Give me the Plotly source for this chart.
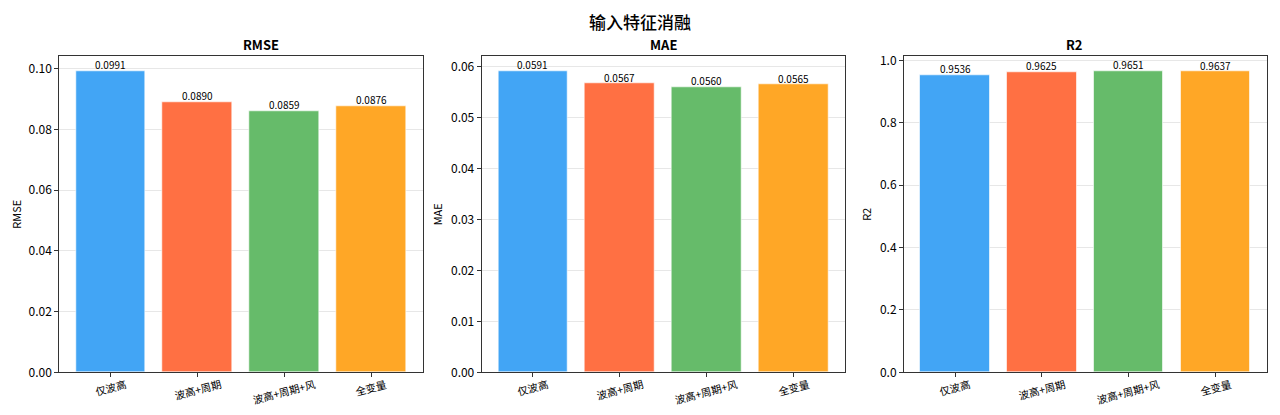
import plotly.graph_objects as go

# --data
groups  = ["仅波高", "波高+周期", "波高+周期+风", "全变量"]
rmse    = [0.0991, 0.0890, 0.0859, 0.0876]
mae     = [0.0591, 0.0567, 0.0560, 0.0565]
r2      = [0.9536, 0.9625, 0.9651, 0.9637]
metrics = ["RMSE", "MAE", "R2"]
colors  = ["#42A5F5", "#FF7043", "#66BB6A", "#FFA726"]

FONT = "Noto Sans CJK SC"
# page body has an 8px margin, so the figure is a bit smaller than the window
OFF  = 8
W, H = 1280 - 2 * OFF, 415 - 2 * OFF

def px_x(x):
    return (x - OFF) / W

def px_y(y):
    return 1 - (y - OFF) / H

# pixel boxes (in the window) of the three axes
boxes  = [(59.3, 422.7), (481.7, 845.0), (904.0, 1266.7)]
top, bottom = 56.3, 372.3
ydom   = [px_y(bottom), px_y(top)]

panels = [
    (rmse, 0.02, ".2f"),
    (mae,  0.01, ".2f"),
    (r2,   0.2,  ".1f"),
]

fig = go.Figure()
xs = list(range(len(groups)))

for i, (vals, dt, fmt) in enumerate(panels):
    n  = "" if i == 0 else str(i + 1)
    xa = "x" + n
    ya = "y" + n
    fig.add_trace(go.Bar(
        x=xs, y=vals, width=0.8,
        marker=dict(color=colors, line=dict(color="rgba(255,255,255,0.6)", width=1)),
        xaxis=xa, yaxis=ya, showlegend=False, hoverinfo="y",
    ))
    # value labels above bars
    for x, v in zip(xs, vals):
        fig.add_annotation(
            x=x, y=v, xref=xa, yref=ya, text=f"{v:.4f}",
            showarrow=False, yanchor="bottom", yshift=-3,
            font=dict(family=FONT, size=10, color="black"),
        )
    # rotated category labels, centred under each tick (matplotlib style)
    for x, g in zip(xs, groups):
        fig.add_annotation(
            x=x, y=px_y(375), xref=xa, yref="paper", text=g,
            showarrow=False, textangle=-15, xanchor="center", yanchor="top",
            borderpad=0, font=dict(family=FONT, size=10.5, color="black"),
        )
    l, r = boxes[i]
    ymax = max(vals) * 1.05
    fig.update_layout(**{
        "xaxis" + n: dict(
            domain=[px_x(l), px_x(r)], anchor=ya, range=[-0.59, 3.59],
            tickvals=xs, showticklabels=False,
            ticks="outside", ticklen=4, tickcolor="#333",
            showline=True, mirror=True, linecolor="#333", linewidth=1,
            showgrid=False, zeroline=False, automargin=False,
        ),
        "yaxis" + n: dict(
            domain=ydom, anchor=xa, range=[0, ymax], dtick=dt, tick0=0,
            tickformat=fmt, automargin=False,
            ticks="outside", ticklen=4, tickcolor="#333",
            showline=True, mirror=True, linecolor="#333", linewidth=1,
            showgrid=True, gridcolor="rgba(176,176,176,0.3)", zeroline=False,
            tickfont=dict(family=FONT, size=12, color="black"),
            title=dict(text=metrics[i], standoff=6,
                       font=dict(family=FONT, size=11, color="black")),
        ),
    })
    # subplot title
    fig.add_annotation(
        x=px_x((l + r) / 2), y=px_y(44), xref="paper", yref="paper",
        text=metrics[i], showarrow=False, yanchor="middle",
        font=dict(family=FONT, size=13, color="black", weight=600),
    )

# main title
fig.add_annotation(
    x=px_x(640), y=px_y(8), xref="paper", yref="paper",
    text="输入特征消融", showarrow=False, yanchor="top", borderpad=0,
    font=dict(family=FONT, size=17, color="black", weight=500),
)

fig.update_layout(
    width=W, height=H,
    margin=dict(l=0, r=0, t=0, b=0),
    plot_bgcolor="white", paper_bgcolor="white",
    bargap=0,
)

fig.write_html("out.html")
